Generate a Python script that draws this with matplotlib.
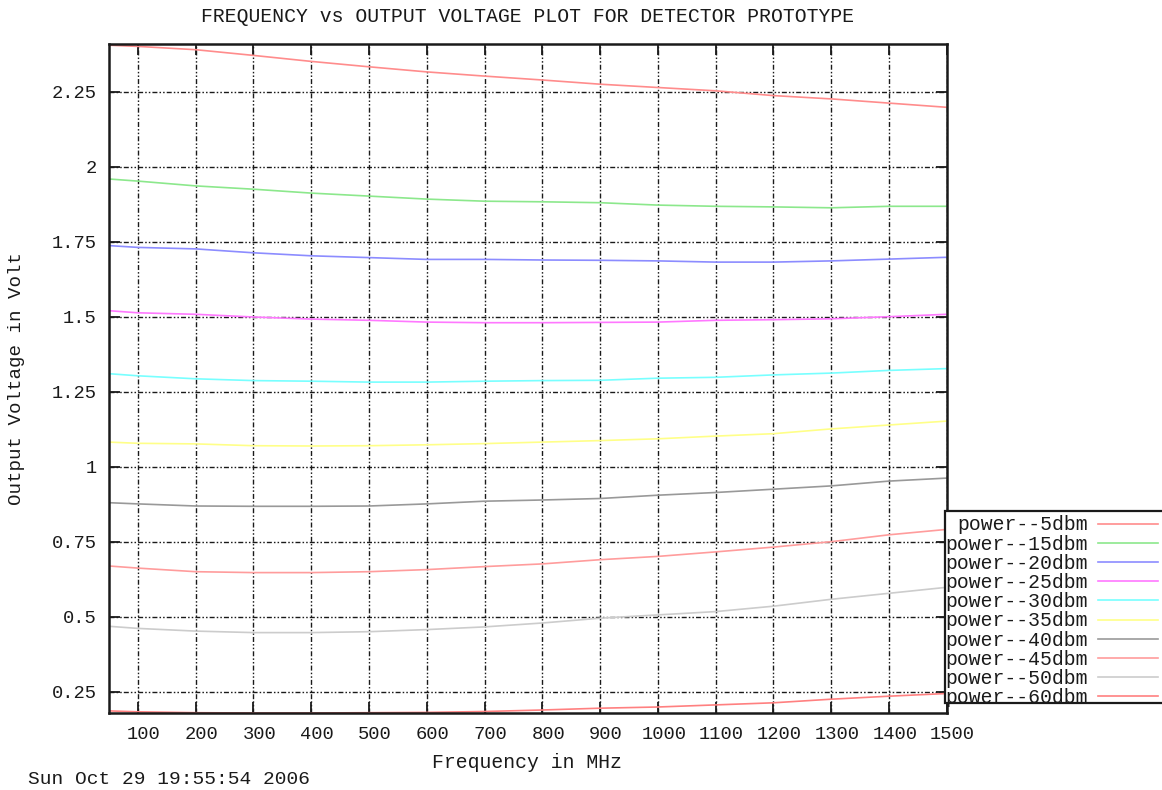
import matplotlib
matplotlib.use("Agg")
import matplotlib.pyplot as plt
from matplotlib.patches import Rectangle
from matplotlib.transforms import ScaledTranslation

# ---- data ----
freq = [50, 100, 200, 300, 400, 500, 600, 700, 800, 900, 1000, 1100, 1200, 1300, 1400, 1500]

v_m5 = [2.405, 2.401, 2.390, 2.371, 2.351, 2.333, 2.316, 2.302, 2.289, 2.275, 2.264, 2.253, 2.237, 2.226, 2.212, 2.198]
v_m15 = [1.959, 1.952, 1.936, 1.925, 1.912, 1.902, 1.892, 1.885, 1.883, 1.880, 1.872, 1.868, 1.866, 1.863, 1.868, 1.868]
v_m20 = [1.737, 1.731, 1.726, 1.713, 1.703, 1.697, 1.691, 1.691, 1.689, 1.688, 1.686, 1.682, 1.682, 1.686, 1.692, 1.698]
v_m25 = [1.520, 1.513, 1.508, 1.499, 1.492, 1.488, 1.482, 1.480, 1.480, 1.481, 1.482, 1.488, 1.490, 1.493, 1.500, 1.508]
v_m30 = [1.310, 1.303, 1.293, 1.287, 1.285, 1.282, 1.282, 1.285, 1.287, 1.288, 1.295, 1.298, 1.306, 1.312, 1.321, 1.327]
v_m35 = [1.082, 1.078, 1.076, 1.070, 1.069, 1.070, 1.073, 1.077, 1.082, 1.087, 1.093, 1.102, 1.110, 1.126, 1.139, 1.152]
v_m40 = [0.880, 0.876, 0.869, 0.868, 0.868, 0.869, 0.876, 0.885, 0.889, 0.894, 0.905, 0.914, 0.925, 0.936, 0.952, 0.962]
v_m45 = [0.669, 0.662, 0.650, 0.647, 0.647, 0.650, 0.657, 0.667, 0.676, 0.690, 0.701, 0.716, 0.732, 0.750, 0.773, 0.791]
v_m50 = [0.468, 0.461, 0.452, 0.447, 0.447, 0.450, 0.457, 0.466, 0.479, 0.495, 0.506, 0.517, 0.535, 0.558, 0.578, 0.598]
v_m60 = [0.186, 0.183, 0.180, 0.179, 0.179, 0.180, 0.181, 0.184, 0.189, 0.195, 0.199, 0.206, 0.213, 0.225, 0.235, 0.244]

series = [v_m5, v_m15, v_m20, v_m25, v_m30, v_m35, v_m40, v_m45, v_m50, v_m60]
labels = ["power--5dbm", "power--15dbm", "power--20dbm", "power--25dbm", "power--30dbm",
          "power--35dbm", "power--40dbm", "power--45dbm", "power--50dbm", "power--60dbm"]
colors = ["#ff8c8c", "#8ce88c", "#8c8cff", "#ff78ff", "#78ffff",
          "#ffff88", "#999999", "#ff9c9c", "#cccccc", "#ff8080"]

xticks = [100, 200, 300, 400, 500, 600, 700, 800, 900, 1000, 1100, 1200, 1300, 1400, 1500]
yticks = [0.25, 0.5, 0.75, 1.0, 1.25, 1.5, 1.75, 2.0, 2.25]
ytick_labels = ["0.25", "0.5", "0.75", "1", "1.25", "1.5", "1.75", "2", "2.25"]

title = "FREQUENCY vs OUTPUT VOLTAGE PLOT FOR DETECTOR PROTOTYPE"
xlabel = "Frequency in MHz"
ylabel = "Output Voltage in Volt"
stamp = "Sun Oct 29 19:55:54 2006"

# ---- figure ----
plt.rcParams['font.family'] = ['Liberation Mono', 'DejaVu Sans Mono']
INK = "#1a1a1a"
W, H = 1162, 790
fig = plt.figure(figsize=(W / 100, H / 100), dpi=100)
ax = fig.add_axes([109 / W, 1 - 713.3 / H, (946.7 - 109) / W, (713.3 - 43.7) / H])

handles = []
for ys, lab, c in zip(series, labels, colors):
    ln, = ax.plot(freq, ys, color=c, lw=1.2, label=lab, zorder=3)
    handles.append(ln)

ax.set_xlim(50, 1500)
ax.set_ylim(0.178, 2.41)
ax.set_xticks(xticks)
ax.set_xticklabels([str(t) for t in xticks])
ax.set_yticks(yticks)
ax.set_yticklabels(ytick_labels)

ax.grid(True, color=INK, lw=1.0, linestyle=(0, (3.6, 1.5, 1.1, 1.5, 1.1, 1.5)), zorder=1)
ax.tick_params(direction="in", length=8, width=1.3, top=True, right=True,
               labelsize=13.5, colors=INK, pad=9)
shift = ScaledTranslation(6 / 100, 0, fig.dpi_scale_trans)
for lbl in ax.get_xticklabels():
    lbl.set_transform(lbl.get_transform() + shift)
for s in ax.spines.values():
    s.set_linewidth(1.8)
    s.set_color(INK)
    s.set_zorder(5)

fig.text(528 / W, 1 - 16 / H, title, ha="center", va="center", fontsize=14.2, color=INK)
fig.text(527.5 / W, 1 - 762 / H, xlabel, ha="center", va="center", fontsize=14.2, color=INK)
fig.text(17 / W, 1 - 378.5 / H, ylabel, ha="center", va="center", rotation=90, fontsize=13.8, color=INK)
fig.text(28 / W, 1 - 779 / H, stamp, ha="left", va="center", fontsize=14, color=INK)

# legend box (extends past the right edge of the image, as in the reference)
box = Rectangle((945 / W, 1 - 703 / H), 240 / W, (703 - 510.7) / H, transform=fig.transFigure,
                facecolor="white", edgecolor=INK, lw=1.6, zorder=9)
fig.add_artist(box)

leg = fig.legend(handles, labels, loc="upper left", bbox_to_anchor=(945 / W, 1 - 515.5 / H),
                 bbox_transform=fig.transFigure,
                 markerfirst=False, fontsize=14.2, handlelength=3.0, handletextpad=0.55,
                 labelspacing=0.01, borderpad=0.0, borderaxespad=0, frameon=False)
leg.set_zorder(10)
for t in leg.get_texts():
    t.set_color(INK)

fig.savefig("out.png", dpi=100)
